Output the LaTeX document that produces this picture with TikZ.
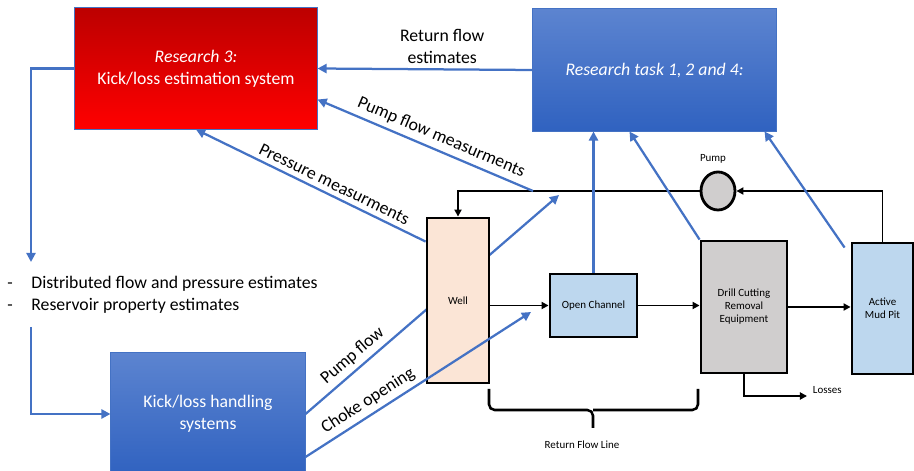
\documentclass[tikz,border=0pt]{standalone}
\usepackage{fontspec}
\setmainfont{Carlito}
\usetikzlibrary{arrows.meta,calc,shapes.geometric}

\definecolor{linkblue}{RGB}{68,114,196}
\definecolor{redtop}{RGB}{188,0,0}
\definecolor{redbot}{RGB}{255,0,0}
\definecolor{bluetop}{RGB}{92,132,208}
\definecolor{bluebot}{RGB}{48,98,192}
\definecolor{wellfill}{RGB}{251,229,214}
\definecolor{chanfill}{RGB}{189,215,238}
\definecolor{grayfill}{RGB}{208,206,206}

\begin{document}
\begin{tikzpicture}[x=0.025cm, y=-0.025cm,
  every node/.style={font=\fontsize{12.6}{15.6}\selectfont, align=center, text=black},
  small/.style={font=\fontsize{7.8}{9.2}\selectfont},
  grad/.style={draw=linkblue, line width=0.7pt, text=white, inner sep=0pt},
  redbox/.style={grad, top color=redtop, bottom color=redbot},
  bluebox/.style={grad, top color=bluetop, bottom color=bluebot},
  unit/.style={small, draw=black, line width=2pt, inner sep=0pt},
  link/.style={linkblue, line width=1.6pt},
  tip/.style={-{Triangle[length=6.5pt,width=6.5pt]}},
  tipback/.style={{Triangle[length=6.5pt,width=6.5pt]}-},
  flow/.style={black, line width=1.4pt, -{Triangle[length=5pt,width=5pt]}}]
  \useasboundingbox (0,0) rectangle (914,471);
  \clip (0,0) rectangle (914,471);
  % research and handling blocks
  \node[redbox, minimum width=6.05cm, minimum height=3.025cm] (rs) at (196,68.5) {\textit{Research 3:}\\Kick/loss estimation system};
  \node[bluebox, minimum width=6.075cm, minimum height=3.05cm] (rt) at (654.5,70) {\textit{Research task 1, 2 and 4:}};
  \node[bluebox, minimum width=4.85cm, minimum height=3.05cm] (kh) at (208,414) {Kick/loss handling\\systems};
  % pump flow runs behind the well
  \coordinate (pfend) at (559,195);
  \draw[link, tip] (kh.east) -- node[sloped, above, pos=0.22] {Pump flow} (pfend);
  % process units
  \node[unit, fill=wellfill, minimum width=1.55cm, minimum height=4.125cm] (well) at (458,300.5) {Well};
  \node[unit, fill=chanfill, minimum width=2.175cm, minimum height=1.575cm] (oc) at (593.5,305.5) {Open Channel};
  \node[unit, fill=grayfill, minimum width=2.15cm, minimum height=3.3cm] (drill) at (744,307) {Drill Cutting\\Removal\\Equipment};
  \node[unit, fill=chanfill, minimum width=1.525cm, minimum height=3.275cm] (mud) at (882.5,308.5) {Active\\Mud Pit};
  \node[unit, ellipse, fill=grayfill, minimum width=0.85cm, minimum height=0.95cm] (pump) at (718,191) {};
  \node[small] (pumplbl) at (713,159) {Pump};
  % mud circulation
  \draw[flow] (well.east |- oc.west) -- (oc.west);
  \draw[flow] (oc.east) -- (oc.east -| drill.west);
  \draw[flow] (drill.east) -- (drill.east -| mud.west);
  \draw[flow] (mud.north) |- (pump.east);
  \draw[flow] (pump.west) -| (well.north);
  \coordinate (loss) at (807,396);
  \draw[flow] (drill.south) |- (loss);
  \node[small, anchor=west] (losslbl) at ($(loss)+(1,-6)$) {Losses};
  % return flow line brace
  \draw[line width=1.8pt, rounded corners=4pt] (489,389) -- (489,410) -- (593,410) -- (593,428);
  \draw[line width=1.8pt, rounded corners=4pt] (593,410) -- (698,410) -- (698,389);
  \node[small] (rfl) at (582,445) {Return Flow Line};
  % measurement links
  \coordinate (pfm) at (533,191);
  \draw[link, tip] (rt.west) -- node[above, pos=0.42, inner sep=3pt] {Return flow\\estimates} (rs.east);
  \draw[link, tipback] ($(rs.east)+(0,31)$) -- node[sloped, above, pos=0.55] {Pump flow measurments} (pfm);
  \draw[link, tipback] (rs.south) -- node[sloped, above, pos=0.58] {Pressure measurments} ($(well.north west)+(0,25)$);
  \coordinate (chend) at (531,312);
  \draw[link, tip] ($(kh.east)+(0,43)$) -- node[sloped, above, pos=0.31] {Choke opening} (chend);
  \draw[link, tip] (oc.north) -- (oc.north |- rt.south);
  \draw[link, tip] (drill.north west) -- ($(rt.south west)+(97,0)$);
  \draw[link, tip] ($(mud.north west)+(-6,6)$) -- ($(rt.south east)+(-12,0)$);
  % estimates feed the handling system
  \coordinate (esttop) at (31,262);
  \draw[link, tip] (rs.west) -| (esttop);
  \node[anchor=west, align=left, inner sep=0pt] (est) at (7,295) {\makebox[1.36em][l]{-}Distributed flow and pressure estimates\\\makebox[1.36em][l]{-}Reservoir property estimates};
  \coordinate (estbot) at (31,327);
  \draw[link, tip] (estbot) |- (kh.west);
\end{tikzpicture}
\end{document}
